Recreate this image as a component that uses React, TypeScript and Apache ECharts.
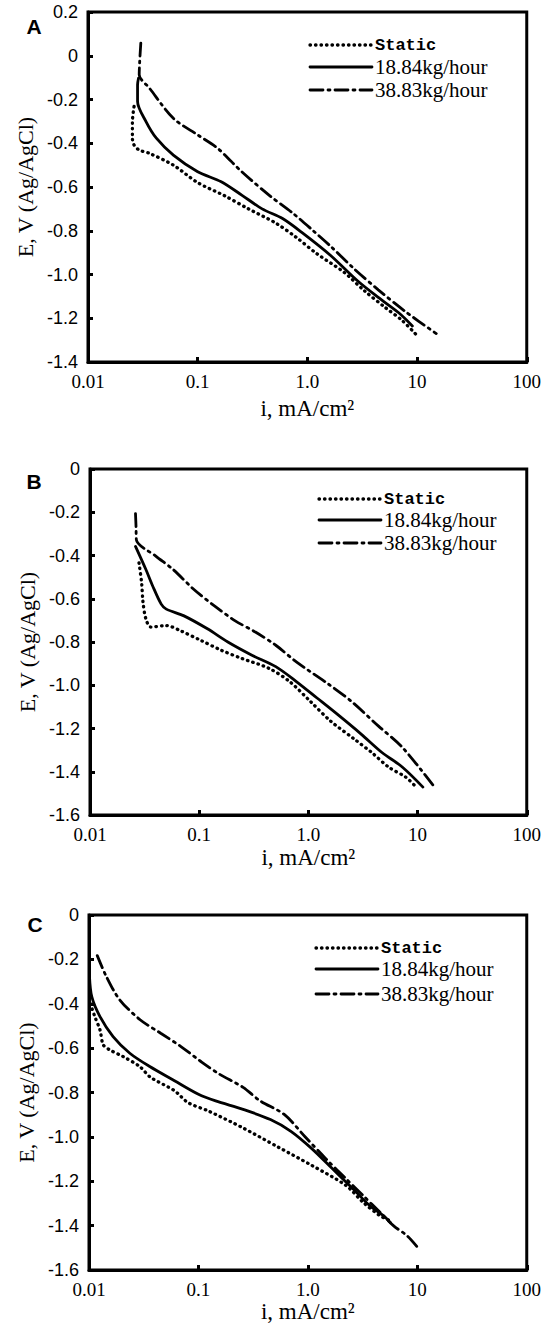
import React, { useEffect, useRef } from "react";
import * as echarts from "echarts";

// ---------- DATA ----------
const xTickLabels = ["0.01", "0.1", "1.0", "10", "100"];
const panelLetters = ["A", "B", "C"];
const legendNames = ["Static", "18.84kg/hour", "38.83kg/hour"];
const yRanges = [
  [-1.4, 0.2],
  [-1.6, 0],
  [-1.6, 0],
];

// Panel A
const staticA = [
  [0.0263, -0.232], [0.0254, -0.301], [0.0254, -0.377], [0.0263, -0.408], [0.0293, -0.431],
  [0.0363, -0.446], [0.06, -0.5], [0.1, -0.58], [0.176, -0.64], [0.29, -0.7],
  [0.515, -0.765], [0.79, -0.83], [1.22, -0.905], [2.16, -0.99], [3.32, -1.075],
  [5.1, -1.15], [7.3, -1.21], [9.7, -1.272],
];
const flow1A = [
  [0.0289, -0.102], [0.0283, -0.133], [0.0283, -0.209], [0.0338, -0.301], [0.042, -0.377],
  [0.06, -0.454], [0.1, -0.53], [0.164, -0.576], [0.252, -0.637], [0.387, -0.7],
  [0.594, -0.744], [0.914, -0.812], [1.62, -0.912], [2.88, -1.03], [4.43, -1.105],
  [6.8, -1.175], [9.06, -1.235],
];
const flow2A = [
  [0.0303, 0.058], [0.0296, -0.026], [0.0293, -0.087], [0.0363, -0.148], [0.06, -0.286],
  [0.1, -0.362], [0.152, -0.423], [0.252, -0.53], [0.447, -0.637], [0.738, -0.72],
  [1.13, -0.8], [1.62, -0.87], [2.68, -0.975], [4.43, -1.07], [7.85, -1.17],
  [14.96, -1.27],
];

// Panel B
const staticB = [
  [0.0281, -0.434], [0.0297, -0.526], [0.0306, -0.617], [0.0325, -0.693], [0.0361, -0.731],
  [0.05, -0.724], [0.0667, -0.747], [0.103, -0.792], [0.159, -0.838], [0.245, -0.876],
  [0.436, -0.922], [0.673, -0.983], [1.04, -1.074], [1.6, -1.166], [2.65, -1.25],
  [3.8, -1.311], [5.45, -1.379], [7.8, -1.425], [9.7, -1.471],
];
const flow1B = [
  [0.0261, -0.358], [0.0325, -0.465], [0.0375, -0.541], [0.0449, -0.625], [0.05, -0.648],
  [0.0718, -0.678], [0.119, -0.739], [0.183, -0.8], [0.304, -0.861], [0.503, -0.914],
  [0.776, -0.983], [1.2, -1.059], [1.85, -1.135], [3.06, -1.227], [4.72, -1.311],
  [7.28, -1.379], [11.2, -1.471],
];
const flow2B = [
  [0.0261, -0.206], [0.0264, -0.267], [0.0266, -0.328], [0.0403, -0.404], [0.0578, -0.465],
  [0.089, -0.556], [0.137, -0.632], [0.212, -0.701], [0.327, -0.754], [0.503, -0.815],
  [0.776, -0.892], [1.49, -0.991], [2.47, -1.074], [4.39, -1.189], [7.28, -1.288],
  [13.9, -1.463],
];

// Panel C
const staticC = [
  [0.0103, -0.4], [0.0113, -0.458], [0.0126, -0.518], [0.0135, -0.585], [0.0155, -0.608],
  [0.0205, -0.638], [0.0291, -0.683], [0.0364, -0.731], [0.0604, -0.792], [0.0805, -0.846],
  [0.124, -0.884], [0.256, -0.96], [0.526, -1.044], [1.08, -1.128], [2.23, -1.219],
  [3.2, -1.295], [4.58, -1.356], [5.69, -1.379],
];
const flow1C = [
  [0.0101, -0.275], [0.0106, -0.368], [0.0126, -0.458], [0.0166, -0.548], [0.0236, -0.623],
  [0.0359, -0.683], [0.0604, -0.747], [0.1, -0.808], [0.1436, -0.838], [0.256, -0.876],
  [0.455, -0.922], [0.7, -0.975], [1.08, -1.052], [1.67, -1.143], [2.58, -1.234],
  [3.69, -1.311], [4.93, -1.356], [5.69, -1.387],
];
const flow2C = [
  [0.0119, -0.183], [0.0143, -0.274], [0.019, -0.381], [0.0293, -0.472], [0.0452, -0.533],
  [0.0697, -0.594], [0.107, -0.663], [0.154, -0.716], [0.256, -0.777], [0.367, -0.838],
  [0.608, -0.899], [0.938, -0.998], [1.45, -1.097], [2.23, -1.189], [3.2, -1.265],
  [4.58, -1.341], [6.12, -1.402], [8.17, -1.448], [10.5, -1.509],
];

const panelSeries = [
  [staticA, flow1A, flow2A],
  [staticB, flow1B, flow2B],
  [staticC, flow1C, flow2C],
];

// ---------- LAYOUT / STYLE ----------
const grids = [
  { left: 88, top: 12, width: 442, height: 350 },
  { left: 90, top: 469, width: 440, height: 346 },
  { left: 89, top: 915, width: 440, height: 355 },
];
const xNameGaps = [35, 31, 28];
const legendPos = [
  { x1: 310, x2: 372, tx: 375, ys: [45, 67, 90] },
  { x1: 319, x2: 381, tx: 384, ys: [499, 520, 543] },
  { x1: 316, x2: 378, tx: 381, ys: [948, 969, 994] },
];
const letterPos = [
  { x: 34, y: 26 },
  { x: 34, y: 481 },
  { x: 35, y: 924 },
];

const lineStyles = [
  { color: "#000", width: 3.3, type: [0.5, 5], cap: "round" },
  { color: "#000", width: 2.8, type: "solid", cap: "round" },
  { color: "#000", width: 2.8, type: [13, 5, 2, 5], cap: "round" },
];

const serif = "Liberation Serif";
const sans = "Liberation Sans";
const mono = "Liberation Mono";

function xLabel(v: number) {
  const e = Math.round(Math.log10(v));
  return xTickLabels[e + 2] ?? "";
}
function yLabel(v: number) {
  if (Math.abs(v) < 1e-9) return "0";
  return v.toFixed(1);
}

export default function App() {
  const ref = useRef<HTMLDivElement>(null);
  useEffect(() => {
    if (!ref.current) return;
    const chart = echarts.init(ref.current, undefined, { renderer: "svg" });

    const xAxis = grids.map((_, i) => ({
      type: "log",
      logBase: 10,
      gridIndex: i,
      min: 0.01,
      max: 100,
      name: "i, mA/cm²",
      nameLocation: "middle",
      nameGap: xNameGaps[i],
      nameTextStyle: { fontFamily: serif, fontSize: 23, color: "#000" },
      axisLine: { show: true, onZero: false, lineStyle: { color: "#000", width: 3 } },
      axisTick: { show: true, inside: true, length: 5, lineStyle: { color: "#000", width: 3 } },
      minorTick: { show: false },
      splitLine: { show: false },
      axisLabel: {
        formatter: xLabel,
        fontFamily: serif,
        fontSize: 19,
        color: "#000",
        margin: 10,
        showMinLabel: true,
        showMaxLabel: true,
      },
    }));

    const yAxis = grids.map((_, i) => ({
      type: "value",
      gridIndex: i,
      min: yRanges[i][0],
      max: yRanges[i][1],
      interval: 0.2,
      name: "E, V (Ag/AgCl)",
      nameLocation: "middle",
      nameRotate: 90,
      nameGap: 52,
      nameTextStyle: { fontFamily: serif, fontSize: 22, color: "#000" },
      axisLine: { show: true, onZero: false, lineStyle: { color: "#000", width: 3 } },
      axisTick: { show: true, inside: true, length: 5, lineStyle: { color: "#000", width: 3 } },
      splitLine: { show: false },
      axisLabel: {
        formatter: yLabel,
        fontFamily: sans,
        fontSize: 18,
        color: "#000",
        margin: 10,
        showMinLabel: true,
        showMaxLabel: true,
      },
    }));

    const series: any[] = [];
    panelSeries.forEach((list, p) => {
      list.forEach((data, k) => {
        series.push({
          type: "line",
          name: legendNames[k],
          xAxisIndex: p,
          yAxisIndex: p,
          data,
          showSymbol: false,
          symbol: "none",
          smooth: 0.3,
          lineStyle: lineStyles[k],
          z: 3,
        });
      });
    });

    const graphic: any[] = [];
    legendPos.forEach((lp, p) => {
      lp.ys.forEach((y, k) => {
        const ls = lineStyles[k];
        graphic.push({
          type: "line",
          shape: { x1: lp.x1, y1: y, x2: lp.x2, y2: y },
          style: {
            stroke: "#000",
            lineWidth: ls.width,
            lineDash: ls.type === "solid" ? null : ls.type,
            lineCap: "round",
          },
        });
        graphic.push({
          type: "text",
          x: lp.tx,
          y,
          style: {
            text: legendNames[k],
            fontFamily: k === 0 ? mono : serif,
            fontWeight: k === 0 ? "bold" : "normal",
            fontSize: k === 0 ? 17 : 21,
            fill: "#000",
            align: "left",
            verticalAlign: "middle",
          },
        });
      });
      graphic.push({
        type: "text",
        x: letterPos[p].x,
        y: letterPos[p].y,
        style: {
          text: panelLetters[p],
          fontFamily: sans,
          fontWeight: "bold",
          fontSize: 21,
          fill: "#000",
          align: "center",
          verticalAlign: "middle",
        },
      });
    });

    chart.setOption({
      animation: false,
      backgroundColor: "#fff",
      grid: grids.map((g) => ({
        ...g,
        show: true,
        borderColor: "#000",
        borderWidth: 3,
        backgroundColor: "transparent",
        containLabel: false,
      })),
      xAxis,
      yAxis,
      series,
      graphic,
    });

    return () => chart.dispose();
  }, []);

  return (
    <div
      ref={ref}
      style={{ position: "absolute", left: 0, top: 0, width: 544, height: 1327, background: "#fff" }}
    />
  );
}
